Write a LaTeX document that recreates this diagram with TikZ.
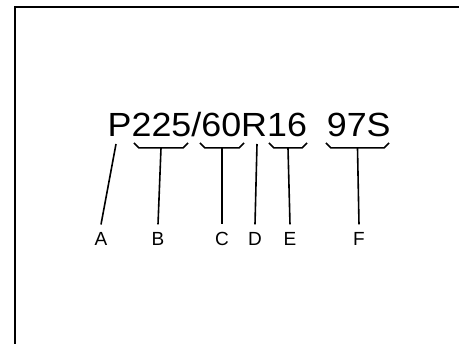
\documentclass[tikz,border=0pt]{standalone}
\usepackage{fontspec}
\setmainfont{Liberation Sans}
\newfontfamily\codefont[FakeStretch=1.07]{Liberation Sans}
\usetikzlibrary{positioning}
% bracket under one part of the code, with a named coordinate at its middle
\newcommand{\drawbrace}[3]{%
  \draw[brace] (#1,143) -- (#1+5,148) -- (#2-5,148) -- (#2,143);
  \coordinate (#3) at ({(#1+#2)/2},148);}
\begin{document}
\begin{tikzpicture}[x=1pt, y=-1pt,
 code/.style={font=\codefont\fontsize{33.5}{36}\selectfont, inner sep=0pt, anchor=base west},
 tag/.style={font=\fontsize{19}{21}\selectfont, inner sep=0pt, outer sep=8pt},
 lead/.style={line width=1.6pt},
 brace/.style={line width=1.5pt, line join=miter}]
\useasboundingbox (0,0) rectangle (459,344);
\draw[line width=2pt] (15,362) |- (470,7);

\node[code] (size) at (107.5,137) {P225/60R16\ \ 97S};

\coordinate (ptop) at (116,144);
\drawbrace{134}{188}{width}
\drawbrace{200}{244}{ratio}
\coordinate (rtop) at (257,144);
\drawbrace{269}{307}{rim}
\drawbrace{326}{389}{load}

\node[tag] (A) at (101,239) {A};
\node[tag] (B) at (158,239) {B};
\node[tag] (C) at (222,239) {C};
\node[tag] (D) at (255,239) {D};
\node[tag] (E) at (290,239) {E};
\node[tag] (F) at (359,239) {F};

\foreach \a/\b in {ptop/A,width/B,ratio/C,rtop/D,rim/E,load/F}
  {\draw[lead] (\a) -- (\b.north);}

\end{tikzpicture}
\end{document}
